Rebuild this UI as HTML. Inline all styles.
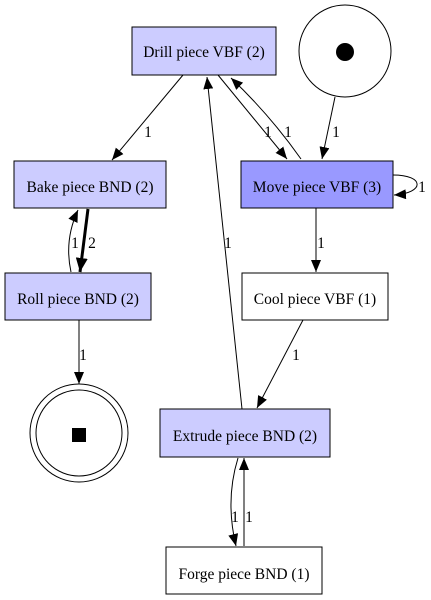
<!DOCTYPE html>
<html><head><meta charset="utf-8"><style>
html,body{margin:0;padding:0;background:#fff;width:431px;height:600px;overflow:hidden}
text{font-family:"Liberation Serif",serif;font-size:15.5px;fill:#000}
</style></head><body>
<svg width="431" height="600" viewBox="0 0 431 600" xmlns="http://www.w3.org/2000/svg">
<defs>
<marker id="a" markerWidth="12" markerHeight="10" refX="12" refY="5" orient="auto" markerUnits="userSpaceOnUse"><path d="M0,0 L12,5 L0,10 z" fill="#000"/></marker>
<marker id="b" markerWidth="14" markerHeight="12" refX="14" refY="6" orient="auto" markerUnits="userSpaceOnUse"><path d="M0,0 L14,6 L0,12 z" fill="#000"/></marker>
</defs>
<g fill="none" stroke="#000" stroke-width="1">
<path d="M183,75 L112,160" marker-end="url(#a)"/>
<path d="M218,75 L287,159" marker-end="url(#a)"/>
<path d="M301,159 Q270,115 231,78" marker-end="url(#a)"/>
<path d="M335,97 L322,159" marker-end="url(#a)"/>
<path d="M393,175 C425,175 425,193 394,195" marker-end="url(#a)"/>
<path d="M88,209 L80,272" stroke-width="3" marker-end="url(#b)"/>
<path d="M71,272 Q64,240 78,210" marker-end="url(#a)"/>
<path d="M316,208 L316,272" marker-end="url(#a)"/>
<path d="M79,320 L79,384" marker-end="url(#a)"/>
<path d="M303,320 L257,408" marker-end="url(#a)"/>
<path d="M242,409 L207,77" marker-end="url(#a)"/>
<path d="M238,458 Q225,500 236,546" marker-end="url(#a)"/>
<path d="M244,546 L244,458" marker-end="url(#a)"/>
</g>
<g stroke="#000" stroke-width="1">
<rect x="132" y="27" width="144" height="48" fill="#ccccff"/>
<rect x="14" y="161" width="152" height="47" fill="#ccccff"/>
<rect x="241" y="161" width="152" height="47" fill="#9999ff"/>
<rect x="5" y="273" width="146" height="47" fill="#ccccff"/>
<rect x="242" y="273" width="146" height="47" fill="#fff"/>
<rect x="160" y="409" width="170" height="48" fill="#ccccff"/>
<rect x="166" y="547" width="156" height="47" fill="#fff"/>
<circle cx="345" cy="51" r="46" fill="#fff"/>
<circle cx="79" cy="433" r="49" fill="#fff"/>
<circle cx="79" cy="433" r="43" fill="none"/>
</g>
<circle cx="345" cy="52" r="9" fill="#000"/>
<rect x="72" y="428" width="14" height="14" fill="#000"/>
<g text-anchor="middle">
<text x="204" y="57">Drill piece VBF (2)</text>
<text x="90" y="192">Bake piece BND (2)</text>
<text x="317" y="192">Move piece VBF (3)</text>
<text x="78" y="304">Roll piece BND (2)</text>
<text x="315" y="304">Cool piece VBF (1)</text>
<text x="245" y="441">Extrude piece BND (2)</text>
<text x="244" y="579">Forge piece BND (1)</text>
</g>
<g text-anchor="middle">
<text x="148" y="137">1</text>
<text x="268" y="137">1</text>
<text x="288" y="137">1</text>
<text x="336" y="137">1</text>
<text x="422" y="192">1</text>
<text x="92" y="248">2</text>
<text x="75" y="248">1</text>
<text x="228" y="248">1</text>
<text x="321" y="248">1</text>
<text x="83" y="360">1</text>
<text x="296" y="360">1</text>
<text x="235" y="522">1</text>
<text x="249" y="522">1</text>
</g>
</svg>
</body></html>
